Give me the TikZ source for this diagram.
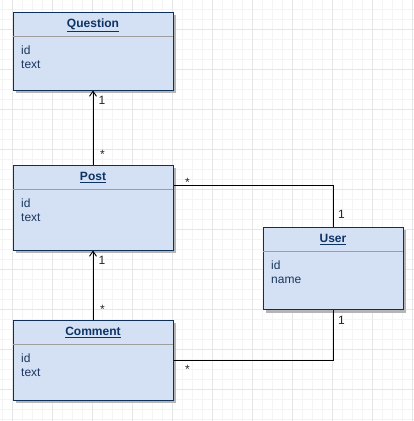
\documentclass[tikz,border=0pt]{standalone}
\usepackage{fontspec}
\setmainfont{Liberation Sans}
\usetikzlibrary{arrows.meta,shadows,calc}
\definecolor{boxfill}{HTML}{D4E1F5}
\definecolor{boxline}{HTML}{0E2F5A}
\definecolor{titlec}{HTML}{0D3263}
\definecolor{bodyc}{HTML}{1B365D}
\definecolor{sepc}{HTML}{9E9E9E}
\definecolor{gridmin}{HTML}{F4F4F4}
\definecolor{gridmaj}{HTML}{E6E6E6}
\definecolor{shadowc}{HTML}{B5B5B5}
\begin{document}
\begin{tikzpicture}[x=1pt,y=-1pt,
  classbox/.style={draw=boxline, fill=boxfill, line width=1pt, rectangle, anchor=north west, inner sep=0pt,
    drop shadow={shadow xshift=3pt,shadow yshift=-3pt,fill=shadowc,opacity=1}},
  ctitle/.style={font=\fontsize{12}{14}\selectfont\bfseries, text=titlec, inner sep=0pt, anchor=base},
  cattr/.style={font=\fontsize{12}{14}\selectfont, text=bodyc, inner sep=0pt, anchor=base west},
  sepline/.style={draw=sepc, line width=1pt},
  conn/.style={draw=black, line width=0.9pt},
  mult/.style={font=\fontsize{12}{13}\selectfont, text=black!85, inner sep=0pt},
  openarrow/.style={-{Straight Barb[length=5pt,width=7pt]}}
]
\useasboundingbox (0,0) rectangle (414,421);
\fill[white] (0,0) rectangle (414,421);
% grid
\foreach \x in {2,12,...,412} \draw[gridmin, line width=0.6pt] (\x,0) -- (\x,421);
\foreach \y in {-0.7,9.3,...,420} \draw[gridmin, line width=0.6pt] (0,\y) -- (414,\y);
\foreach \x in {12,52,...,412} \draw[gridmaj, line width=0.8pt] (\x,0) -- (\x,421);
\foreach \y in {29.3,69.3,...,420} \draw[gridmaj, line width=0.8pt] (0,\y) -- (414,\y);

% class boxes
\node[classbox, minimum width=160pt, minimum height=78pt] (q) at (12.5,11.5) {};
\node[classbox, minimum width=160pt, minimum height=85pt] (p) at (12.5,164.5) {};
\node[classbox, minimum width=160pt, minimum height=80pt] (c) at (12.5,319.5) {};
\node[classbox, minimum width=140pt, minimum height=82.5pt] (u) at (262.5,226.5) {};

% contents
\foreach \b/\t/\a/\bb in {q/Question/text/qq, p/Post/text/pp, c/Comment/text/cc, u/User/name/uu}{
  \draw[sepline] ($(\b.north west)+(0.5,24.7)$) -- ($(\b.north east)+(-0.5,24.7)$);
  \node[ctitle] (\bb t) at ($(\b.north)+(0,16)$) {\underline{\t}};
  \node[cattr] (\bb i) at ($(\b.north west)+(8.5,42.5)$) {id};
  \node[cattr] (\bb a) at ($(\b.north west)+(8.5,56.5)$) {\a};
}

% connectors
\draw[conn, openarrow] (p.north) -- (q.south);
\draw[conn, openarrow] (c.north) -- (p.south);
\coordinate (pe) at ($(p.north east)+(0,20.5)$);
\draw[conn] (pe) -| (u.north);
\draw[conn] (c.east) -| (u.south);

% multiplicities
\node[mult] (m1) at (102,100.3) {1};
\node[mult] (m2) at (102.5,154.8) {*};
\node[mult] (m3) at (102,260) {1};
\node[mult] (m4) at (102.5,309.6) {*};
\node[mult] (m5) at (187.5,182.5) {*};
\node[mult] (m6) at (341.5,214.5) {1};
\node[mult] (m7) at (341.5,320) {1};
\node[mult] (m8) at (187.5,369.6) {*};
\end{tikzpicture}
\end{document}
